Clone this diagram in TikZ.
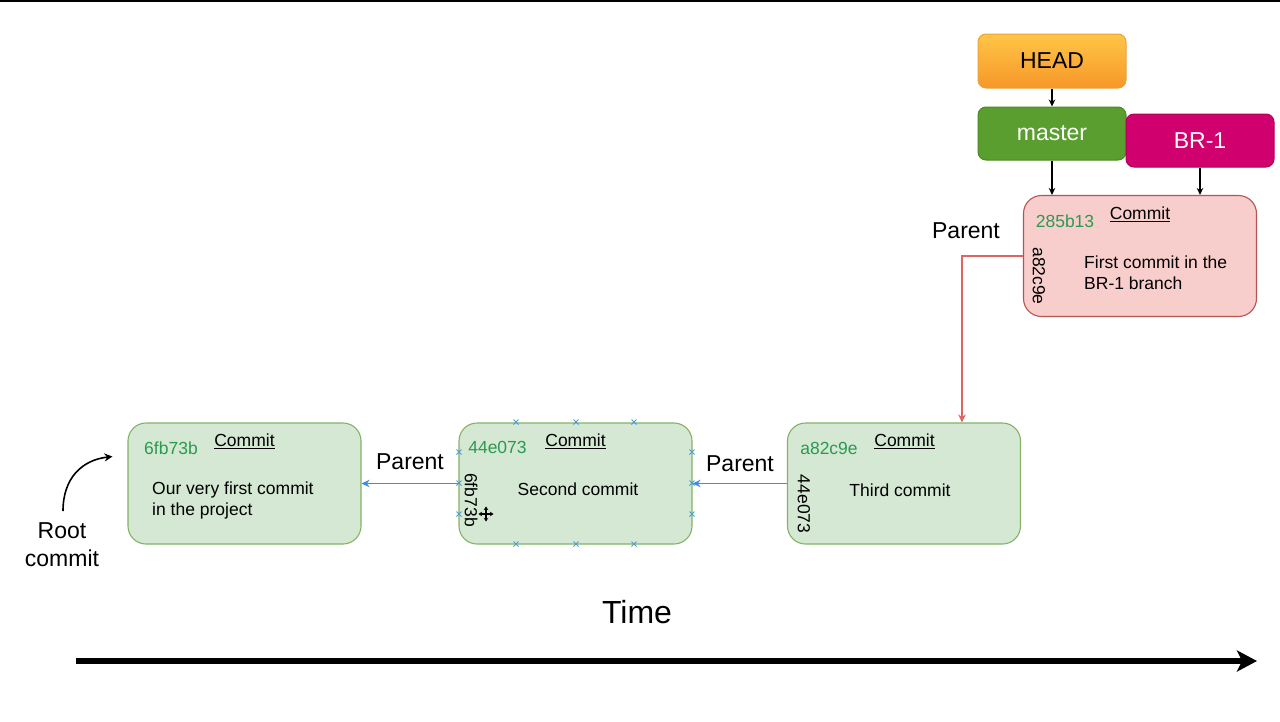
\documentclass[tikz,border=0pt]{standalone}
\usepackage{fontspec}
\setmainfont{Liberation Sans}
\usetikzlibrary{arrows.meta}

\definecolor{commitfill}{HTML}{D5E8D4}
\definecolor{commitline}{HTML}{82B366}
\definecolor{branchfill}{HTML}{F8CECC}
\definecolor{branchline}{HTML}{B85450}
\definecolor{hashgreen}{HTML}{2A9A50}
\definecolor{headtop}{HTML}{FFC646}
\definecolor{headbot}{HTML}{F7972A}
\definecolor{headline}{HTML}{E9A23B}
\definecolor{masterfill}{HTML}{5A9E2F}
\definecolor{masterline}{HTML}{4B8A26}
\definecolor{brfill}{HTML}{D1006F}
\definecolor{brline}{HTML}{B0005E}
\definecolor{parentblue}{HTML}{3D8EE0}
\definecolor{parentred}{HTML}{E06464}
\definecolor{handle}{HTML}{4A9CD6}

\newcommand{\fs}[2]{\fontsize{#1}{#2}\selectfont}

\tikzset{
  commitbox/.style={draw=commitline, fill=commitfill, line width=1.1pt,
    rounded corners=18pt, minimum width=233pt, minimum height=121pt, inner sep=0pt},
  branchcommit/.style={commitbox, draw=branchline, fill=branchfill},
  refbox/.style={rounded corners=8pt, line width=1pt, minimum width=148pt,
    minimum height=53pt, inner sep=0pt, font=\fs{23}{27}},
  hashtxt/.style={text=hashgreen, font=\fs{17.5}{21}, inner sep=0pt},
  titletxt/.style={font=\fs{17.5}{21}, inner sep=0pt},
  bodytxt/.style={font=\fs{17.5}{21}, inner sep=0pt, align=left},
  sidetxt/.style={font=\fs{17.5}{21}, inner sep=0pt, rotate=-90},
  bigtxt/.style={font=\fs{23}{28}, inner sep=0pt, align=center},
  refarrow/.style={draw=black, line width=1.3pt, -{Stealth[length=7pt,width=6.5pt]}},
  parentarrow/.style={draw=parentblue, line width=1.7pt, -{Stealth[length=8pt,width=7.5pt]}},
  redarrow/.style={draw=parentred, line width=1.5pt, -{Stealth[length=8pt,width=7.5pt]}},
  handlemark/.style={draw=handle, line width=0.9pt},
}

\begin{document}
\begin{tikzpicture}[x=1pt, y=-1pt]
\useasboundingbox (0,0) rectangle (1280,721);
\fill[white] (0,0) rectangle (1280,721);
\draw[line width=2pt] (0,1) -- (1280,1);

% ---- references ----
\node[refbox, draw=headline, top color=headtop, bottom color=headbot,
      minimum height=54pt] (head) at (1052,61) {HEAD};
\node[refbox, draw=masterline, fill=masterfill, text=white] (master) at (1052,133.5) {master};
\node[refbox, draw=brline, fill=brfill, text=white] (br) at (1200,140.5) {BR-1};

% ---- commits ----
\node[commitbox] (c1) at (244.5,483.5) {};
\node[commitbox] (c2) at (575.5,483.5) {};
\node[commitbox] (c3) at (904,483.5) {};
\node[branchcommit] (c4) at (1140,256) {};

% commit 1
\node[hashtxt] (h1) at (171,448) {6fb73b};
\node[titletxt] (t1) at (244.5,441) {\underline{Commit}};
\node[bodytxt, anchor=west] (b1) at (152,500) {Our very first commit\\in the project};

% commit 2
\node[hashtxt] (h2) at (497.5,447) {44e073};
\node[titletxt] (t2) at (575.5,441) {\underline{Commit}};
\node[titletxt] (b2) at (578,489) {Second commit};
\node[sidetxt] (p2) at (471,500) {6fb73b};

% commit 3
\node[hashtxt] (h3) at (829,448) {a82c9e};
\node[titletxt] (t3) at (904.5,441) {\underline{Commit}};
\node[titletxt] (b3) at (900,490) {Third commit};
\node[sidetxt] (p3) at (804,504) {44e073};

% commit 4
\node[hashtxt] (h4) at (1065,221) {285b13};
\node[titletxt] (t4) at (1140,214) {\underline{Commit}};
\node[bodytxt, anchor=west] (b4) at (1084,273) {First commit in the\\BR-1 branch};
\node[sidetxt] (p4) at (1039,276) {a82c9e};

% ---- reference arrows ----
\draw[refarrow] (head.south) -- (master.north);
\draw[refarrow] (master.south) -- (master.south |- c4.north);
\draw[refarrow] (br.south) -- (br.south |- c4.north);

% ---- parent links ----
\draw[parentarrow] (c2.west) -- (c1.east);
\draw[parentarrow] (c3.west) -- (c2.east);
\draw[redarrow] (c4.west) -| ([xshift=58pt]c3.north);

\node[bigtxt] (l1) at (410,462) {Parent};
\node[bigtxt] (l2) at (740,464) {Parent};
\node[bigtxt] (l3) at (966,231) {Parent};

% ---- root label ----
\node[bigtxt] (root) at (62,545) {Root\\commit};
\coordinate (rootstart) at (63,511);
\draw[line width=1.6pt, -{Stealth[length=8pt,width=8pt]}]
  (rootstart) .. controls (63,478) and (82,460) .. ([xshift=-15pt,yshift=27pt]c1.west);

% ---- selection handles on the second commit ----
\foreach \px/\py in {516/422, 576/422, 634/422, 516/544, 576/544, 634/544,
                     459/452, 459/483, 459/514, 692/452, 692/483, 692/514} {
  \draw[handlemark] (\px-2.5,\py-2.5) -- (\px+2.5,\py+2.5)
                    (\px-2.5,\py+2.5) -- (\px+2.5,\py-2.5);
}
% move cursor
\draw[line width=1.3pt, {Stealth[length=3.5pt,width=4.5pt]}-{Stealth[length=3.5pt,width=4.5pt]}]
  (478.5,514) -- (493.5,514);
\draw[line width=1.3pt, {Stealth[length=3.5pt,width=4.5pt]}-{Stealth[length=3.5pt,width=4.5pt]}]
  (486,506.5) -- (486,521.5);

% ---- time axis ----
\node[font=\fs{32}{36}, inner sep=0pt] (time) at (637,612) {Time};
\coordinate (tstart) at (76,661);
\coordinate (tend) at (1257,661);
\draw[line width=5.5pt, -{Stealth[length=20pt,width=21pt,inset=5pt]}] (tstart) -- (tend);
\end{tikzpicture}
\end{document}
